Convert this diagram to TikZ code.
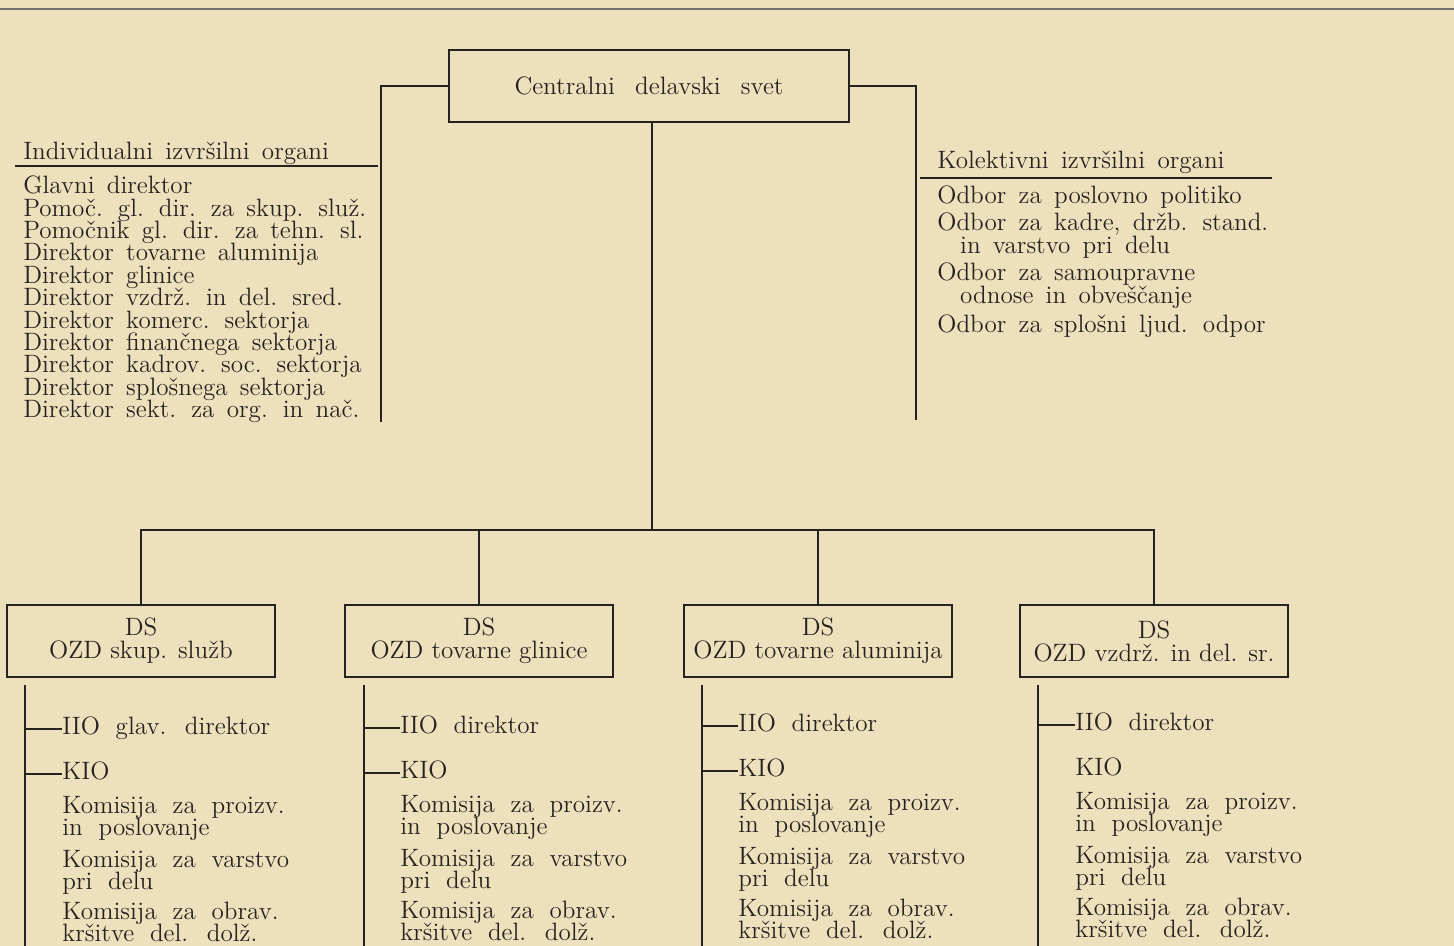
\documentclass[tikz,border=0pt]{standalone}
\usepackage{tikz}
\definecolor{paper}{RGB}{237,224,188}
\definecolor{ink}{RGB}{38,34,30}
\newcommand{\listfont}{\fontsize{14.3}{12.75}\selectfont\lineskiplimit -6pt\spaceskip 7pt\relax}
\newcommand{\colfont}{\fontsize{14.3}{12.75}\selectfont\lineskiplimit -6pt\spaceskip 9pt\relax}
\newcommand{\boxfont}{\fontsize{14.3}{13}\selectfont}
\newcommand{\titlefont}{\fontsize{14.3}{13}\selectfont\spaceskip 11.5pt\relax}

\begin{document}
\begin{tikzpicture}[x=0.02cm, y=-0.02cm]
    \tikzstyle{edge}=[draw,line width = 1pt,-,ink]
    \tikzstyle{txt}=[inner sep=0pt,anchor=base west,text=ink,font=\listfont]
    \tikzstyle{lst}=[txt,align=left,anchor=north west]
    \tikzstyle{ctxt}=[txt,font=\colfont]
    \tikzstyle{clst}=[lst,font=\colfont]
    \tikzstyle{frame}=[draw=ink,line width=1pt,inner sep=0pt,text=ink,align=center,font=\boxfont]
    \fill[paper] (0,0) rectangle (1454,946);
    \clip (0,0) rectangle (1454,946);
    \draw[line width=1.6pt,ink!65] (0,9) -- (1454,9);
    % top
    \node[frame,minimum width=8cm,minimum height=1.44cm,font=\titlefont] (cds) at (649,86) {Centralni delavski svet};
    \coordinate (lknee) at (381,86);
    \coordinate (lfoot) at (381,422);
    \coordinate (rknee) at (916,86);
    \coordinate (rfoot) at (916,420);
    \coordinate (hub) at (652,530);
    \draw[edge] (cds.west) -- (lknee) -- (lfoot);
    \draw[edge] (cds.east) -- (rknee) -- (rfoot);
    \draw[edge] (cds.south -| hub) -- (hub);
    % individualni
    \node[txt] (indiv) at (23,159) {Individualni izvršilni organi};
    \draw[edge] (15,166) -- (378,166);
    \node[lst] (indlist) at (23,175.6) {Glavni direktor\\Pomoč. gl. dir. za skup. služ.\\Pomočnik gl. dir. za tehn. sl.\\Direktor tovarne aluminija\\Direktor glinice\\Direktor vzdrž. in del. sred.\\Direktor komerc. sektorja\\Direktor finančnega sektorja\\Direktor kadrov. soc. sektorja\\Direktor splošnega sektorja\\Direktor sekt. za org. in nač.};
    % kolektivni
    \node[txt] (koll) at (937,169) {Kolektivni izvršilni organi};
    \draw[edge] (920,178) -- (1272,178);
    \node[txt] (odb1) at (937,203) {Odbor za poslovno politiko};
    \node[lst] (odb2) at (937,212.6) {Odbor za kadre, držb. stand.\\\hspace*{13pt}in varstvo pri delu};
    \node[lst] (odb3) at (937,262.6) {Odbor za samoupravne\\\hspace*{13pt}odnose in obveščanje};
    \node[txt] (odb4) at (937,332) {Odbor za splošni ljud. odpor};
    % ozd
    \node[frame,minimum width=5.36cm,minimum height=1.44cm] (ds1) at (141,641) {DS\\OZD skup. služb};
    \node[frame,minimum width=5.36cm,minimum height=1.44cm] (ds2) at (479,641) {DS\\OZD tovarne glinice};
    \node[frame,minimum width=5.36cm,minimum height=1.44cm] (ds3) at (818,641) {DS\\OZD tovarne aluminija};
    \node[frame,minimum width=5.36cm,minimum height=1.44cm] (ds4) at (1154,641) {DS\\OZD vzdrž. in del. sr.};
    \draw[edge] (ds1.north) |- (hub);
    \draw[edge] (ds2.north) |- (hub);
    \draw[edge] (ds3.north) |- (hub);
    \draw[edge] (ds4.north) |- (hub);
    \coordinate (c1) at (25,946);
    \coordinate (c2) at (364,946);
    \coordinate (c3) at (702,946);
    \coordinate (c4) at (1038,946);
    \draw[edge] ([yshift=-4pt]ds1.south -| c1) -- (c1);
    \draw[edge] ([yshift=-4pt]ds2.south -| c2) -- (c2);
    \draw[edge] ([yshift=-4pt]ds3.south -| c3) -- (c3);
    \draw[edge] ([yshift=-4pt]ds4.south -| c4) -- (c4);
    % column 1
    \node[ctxt] (iio1) at (62,734) {IIO glav. direktor};
    \node[ctxt] (kio1) at (62,779) {KIO};
    \node[clst] (kpa1) at (62,795.6) {Komisija za proizv.\\in poslovanje};
    \node[clst] (kva1) at (62,849.6) {Komisija za varstvo\\pri delu};
    \node[clst] (kob1) at (62,901.6) {Komisija za obrav.\\kršitve del. dolž.};
    \draw[edge] ([yshift=3pt]iio1.base west) -- ([yshift=3pt]iio1.base west -| c1);
    \draw[edge] ([yshift=3pt]kio1.base west) -- ([yshift=3pt]kio1.base west -| c1);
    % column 2
    \node[ctxt] (iio2) at (400,733) {IIO direktor};
    \node[ctxt] (kio2) at (400,778) {KIO};
    \node[clst] (kpa2) at (400,794.6) {Komisija za proizv.\\in poslovanje};
    \node[clst] (kva2) at (400,848.6) {Komisija za varstvo\\pri delu};
    \node[clst] (kob2) at (400,900.6) {Komisija za obrav.\\kršitve del. dolž.};
    \draw[edge] ([yshift=3pt]iio2.base west) -- ([yshift=3pt]iio2.base west -| c2);
    \draw[edge] ([yshift=3pt]kio2.base west) -- ([yshift=3pt]kio2.base west -| c2);
    % column 3
    \node[ctxt] (iio3) at (738,731) {IIO direktor};
    \node[ctxt] (kio3) at (738,776) {KIO};
    \node[clst] (kpa3) at (738,792.6) {Komisija za proizv.\\in poslovanje};
    \node[clst] (kva3) at (738,846.6) {Komisija za varstvo\\pri delu};
    \node[clst] (kob3) at (738,898.6) {Komisija za obrav.\\kršitve del. dolž.};
    \draw[edge] ([yshift=3pt]iio3.base west) -- ([yshift=3pt]iio3.base west -| c3);
    \draw[edge] ([yshift=3pt]kio3.base west) -- ([yshift=3pt]kio3.base west -| c3);
    % column 4
    \node[ctxt] (iio4) at (1075,730) {IIO direktor};
    \node[ctxt] (kio4) at (1075,775) {KIO};
    \node[clst] (kpa4) at (1075,791.6) {Komisija za proizv.\\in poslovanje};
    \node[clst] (kva4) at (1075,845.6) {Komisija za varstvo\\pri delu};
    \node[clst] (kob4) at (1075,897.6) {Komisija za obrav.\\kršitve del. dolž.};
    \draw[edge] ([yshift=3pt]iio4.base west) -- ([yshift=3pt]iio4.base west -| c4);
\end{tikzpicture}
\end{document}
